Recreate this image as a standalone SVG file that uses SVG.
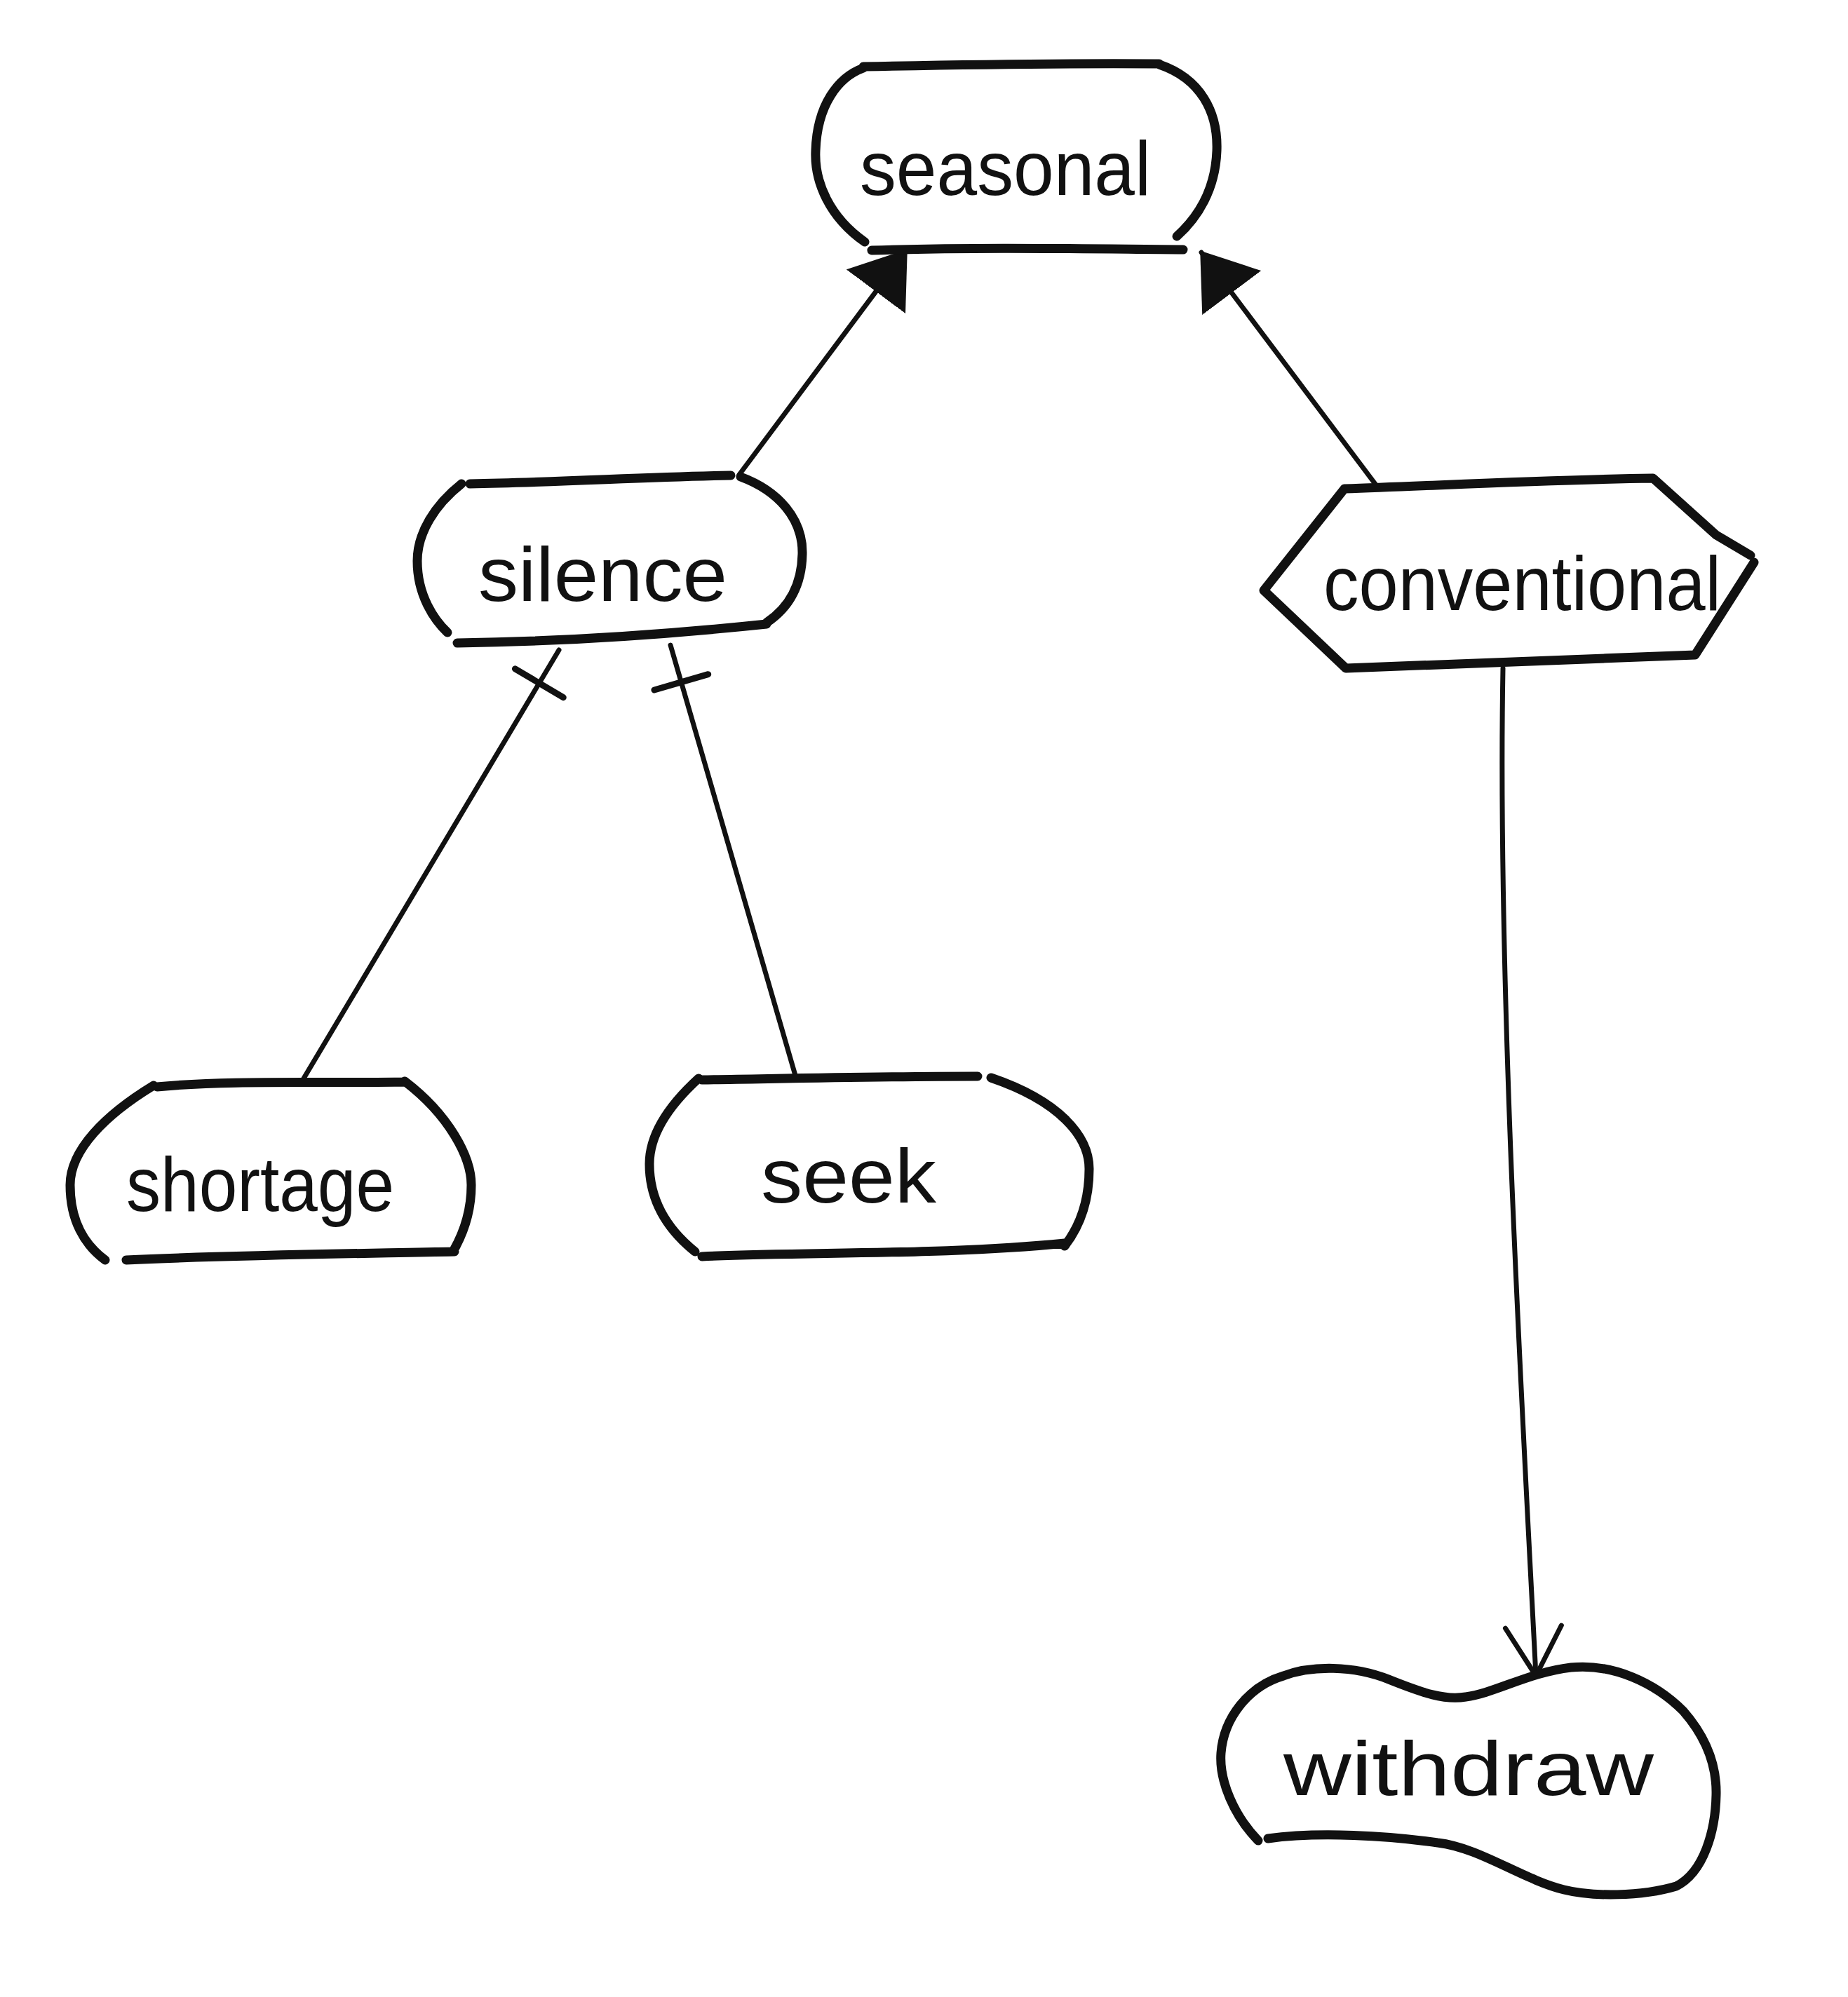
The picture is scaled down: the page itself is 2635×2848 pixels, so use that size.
<svg xmlns="http://www.w3.org/2000/svg" width="2635" height="2848" viewBox="0 0 2635 2848">
<style>
.shape{fill:none;stroke:#111;stroke-width:13;stroke-linecap:round;stroke-linejoin:round}
.edge{fill:none;stroke:#111;stroke-width:7;stroke-linecap:round}
.lbl{font-family:"Liberation Sans","DejaVu Sans",sans-serif;font-size:110px;fill:#111}
</style>
<defs>
<marker id="tri" markerUnits="userSpaceOnUse" viewBox="0 0 75 105" refX="72" refY="52.5" markerWidth="75" markerHeight="105" orient="auto">
<path d="M0,0 L75,52.5 L0,105 Z" fill="#111"/>
</marker>
<marker id="vee" markerUnits="userSpaceOnUse" viewBox="-80 -50 90 100" refX="0" refY="0" markerWidth="90" markerHeight="100" orient="auto">
<path d="M-70,-40 L0,0 L-70,40" fill="none" stroke="#111" stroke-width="7" stroke-linecap="round" stroke-linejoin="round"/>
</marker>
<marker id="tee" markerUnits="userSpaceOnUse" viewBox="-10 -50 100 100" refX="0" refY="0" markerWidth="100" markerHeight="100" orient="auto">
<path d="M55,-40 L55,40" fill="none" stroke="#111" stroke-width="9" stroke-linecap="round"/>
</marker>
</defs>
<rect width="2635" height="2848" fill="#fff"/>
<g id="connectors">
<path class="edge" d="M1054,677 L1292,358" marker-end="url(#tri)"/>
<path class="edge" d="M1966,697 L1713,360" marker-end="url(#tri)"/>
<path class="edge" d="M797,927 L430,1543" marker-start="url(#tee)"/>
<path class="edge" d="M956,920 L1135,1537" marker-start="url(#tee)"/>
<path class="edge" d="M2143,953 C2135,1400 2170,2000 2190,2390" marker-end="url(#vee)"/>
</g>
<g id="node-seasonal">
<path class="shape" d="M1231,95 C1380,92 1520,90 1653,91 M1653,92 C1712,112 1737,160 1735,215 C1733,270 1708,310 1678,337 M1243,357 C1400,352 1550,355 1687,356 M1233,345 C1183,310 1161,260 1163,215 C1165,150 1195,110 1231,97"/>
<text class="lbl" x="1226" y="278" textLength="415" lengthAdjust="spacingAndGlyphs">seasonal</text>
</g>
<g id="node-silence">
<path class="shape" d="M670,690 C800,688 920,680 1042,678 M1056,680 C1110,700 1145,740 1144,790 C1143,840 1120,870 1093,888 M652,917 C800,915 950,905 1093,890 M658,690 C620,720 595,760 595,800 C595,850 620,885 638,902"/>
<text class="lbl" x="682" y="857" textLength="355" lengthAdjust="spacingAndGlyphs">silence</text>
</g>
<g id="node-conventional">
<path class="shape" d="M1917,697 C2060,692 2210,684 2357,682 L2447,763 L2496,792 M2501,802 L2417,934 C2250,940 2080,948 1919,953 L1802,842 L1917,697"/>
<text class="lbl" x="1887" y="870" textLength="567" lengthAdjust="spacingAndGlyphs">conventional</text>
</g>
<g id="node-shortage">
<path class="shape" d="M224,1550 C330,1540 450,1545 577,1543 M577,1542 C640,1590 672,1650 672,1690 C672,1730 660,1760 647,1783 M180,1797 C330,1790 500,1788 648,1785 M219,1548 C150,1590 100,1640 100,1690 C100,1740 120,1775 150,1797"/>
<text class="lbl" x="180" y="1727" textLength="382" lengthAdjust="spacingAndGlyphs">shortage</text>
</g>
<g id="node-seek">
<path class="shape" d="M1001,1540 C1130,1538 1260,1535 1394,1535 M1413,1537 C1510,1570 1553,1620 1553,1667 C1553,1720 1535,1755 1518,1777 M1001,1792 C1150,1785 1350,1790 1518,1773 M996,1538 C950,1580 926,1620 926,1660 C926,1720 960,1760 991,1785"/>
<text class="lbl" x="1085" y="1715" textLength="250" lengthAdjust="spacingAndGlyphs">seek</text>
</g>
<g id="node-withdraw">
<path class="shape" d="M1794,2625 C1760,2590 1738,2540 1741,2500 C1745,2450 1780,2405 1830,2390 C1870,2375 1930,2375 1980,2395 C2030,2415 2060,2425 2090,2420 C2130,2415 2180,2385 2240,2378 C2300,2372 2360,2400 2400,2440 C2435,2480 2448,2520 2447,2560 C2446,2610 2430,2670 2390,2690 C2340,2705 2270,2705 2230,2695 C2170,2680 2110,2635 2050,2628 C1980,2618 1880,2612 1808,2622"/>
<text class="lbl" x="1830" y="2560" textLength="528" lengthAdjust="spacingAndGlyphs">withdraw</text>
</g>
</svg>
